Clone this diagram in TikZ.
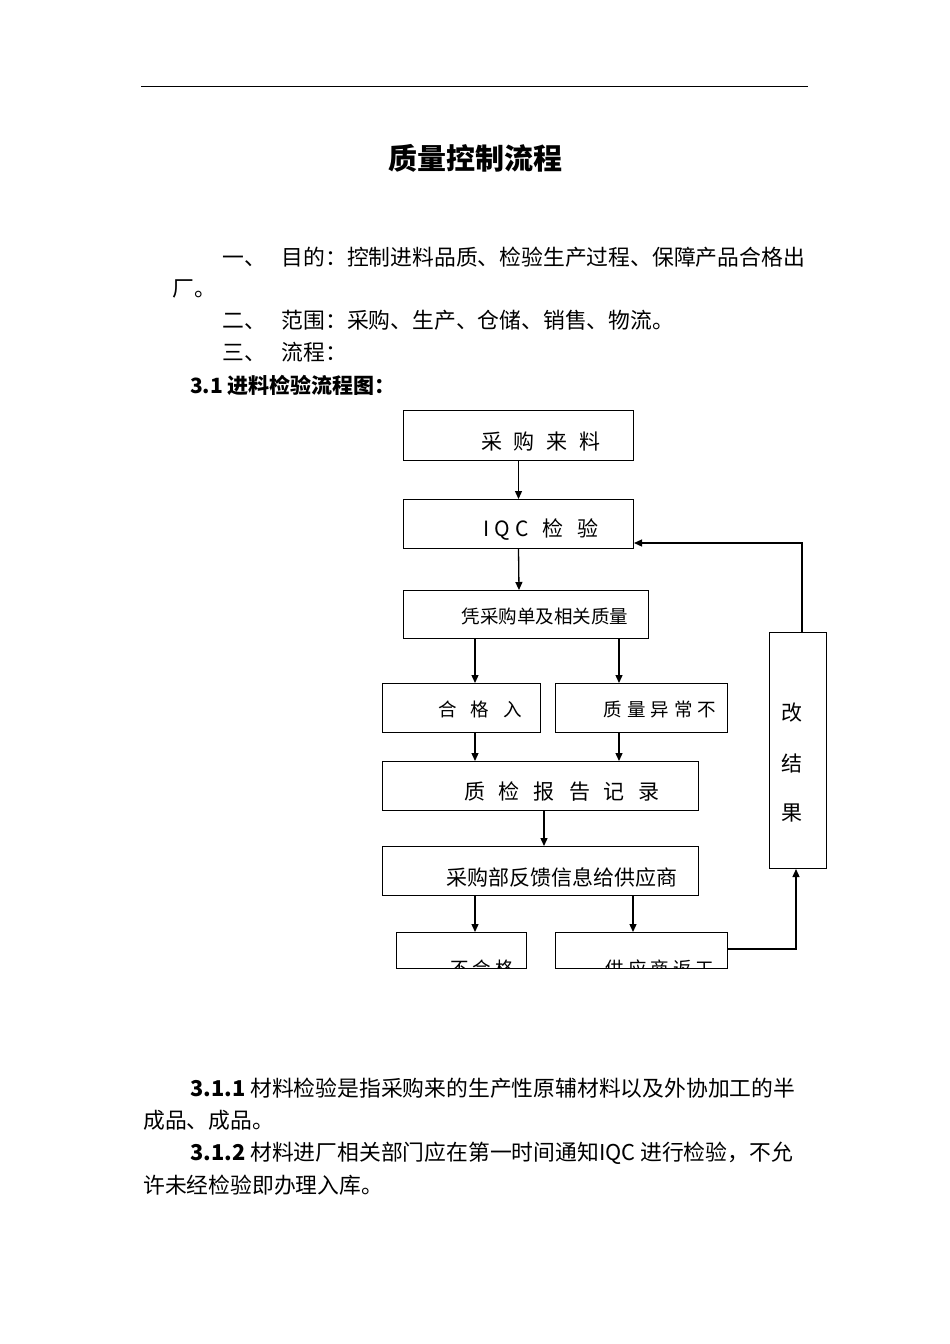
\documentclass[tikz,border=0pt]{standalone}
\usepackage{fontspec}
\setmainfont{Liberation Serif}
\newfontfamily\cjk{Noto Sans CJK SC}
\usetikzlibrary{arrows.meta}
\tikzset{bx/.style={draw,line width=1pt,anchor=north west,inner sep=0pt},
 ar/.style={-{Triangle[length=8pt,width=7pt]},line width=1.3pt},
 tx/.style={font=\fontsize{21.8}{24}\selectfont\cjk,inner sep=0pt,anchor=west},
 bt/.style={font=\fontsize{21}{24}\selectfont\cjk,inner sep=0pt},
 st/.style={font=\fontsize{18.5}{22}\selectfont\cjk,inner sep=0pt}}
\begin{document}
\begin{tikzpicture}[x=1pt,y=-1pt]
\useasboundingbox (0,0) rectangle (950,1344);
\fill[white] (0,0) rectangle (950,1344);
\draw[line width=0.8pt] (141,86) -- (808,86);
\node[font=\fontsize{29}{32}\selectfont\cjk\bfseries] (title) at (475,158) {质量控制流程};
\node[tx] (l1) at (222,257) {一、\hspace{16pt}目的：控制进料品质、检验生产过程、保障产品合格出};
\node[tx] (l2) at (172,289) {厂。};
\node[tx] (l3) at (222,320) {二、\hspace{16pt}范围：采购、生产、仓储、销售、物流。};
\node[tx] (l4) at (222,352) {三、\hspace{16pt}流程：};
\node[tx,font=\fontsize{21}{24}\selectfont\cjk\bfseries] (l5) at (190,385) {3.1 进料检验流程图：};
% boxes
\node[bx,minimum width=230pt,minimum height=50pt] (b1) at (403,410) {};
\node[bt] at (541,442) {采\hspace{12pt}购\hspace{12pt}来\hspace{12pt}料};
\node[bx,minimum width=230pt,minimum height=49pt] (b2) at (403,499) {};
\node[bt] at (541,530) {I\hspace{5pt}Q\hspace{5pt}C\hspace{14pt}检\hspace{14pt}验};
\node[bx,minimum width=245pt,minimum height=48pt] (b3) at (403,590) {};
\node[st] at (545,616) {凭采购单及相关质量};
\node[bx,minimum width=158pt,minimum height=49pt] (b4) at (382,683) {};
\node[st] at (480,709) {合\hspace{14pt}格\hspace{14pt}入};
\node[bx,minimum width=172pt,minimum height=49pt] (b5) at (555,683) {};
\node[st] at (660,709) {质\hspace{5pt}量\hspace{5pt}异\hspace{5pt}常\hspace{5pt}不};
\node[bx,minimum width=316pt,minimum height=49pt] (b6) at (382,761) {};
\node[bt] at (562,792) {质\hspace{14pt}检\hspace{14pt}报\hspace{14pt}告\hspace{14pt}记\hspace{14pt}录};
\node[bx,minimum width=316pt,minimum height=49pt] (b7) at (382,846) {};
\node[bt] at (562,877) {采购部反馈信息给供应商};
\node[bx,minimum width=130pt,minimum height=36pt] (b8) at (396,932) {};
\node[bx,minimum width=172pt,minimum height=36pt] (b9) at (555,932) {};
\begin{scope}
\clip (396,932) rectangle (727,967);
\node[st] at (482,968) {不\hspace{4pt}合\hspace{4pt}格};
\node[st] at (660,968) {供\hspace{4pt}应\hspace{4pt}商\hspace{4pt}返\hspace{4pt}工};
\end{scope}
\node[bx,minimum width=57pt,minimum height=236pt] (r) at (769,632) {};
\node[bt] at (792,713) {改};
\node[bt] at (792,763) {结};
\node[bt] at (792,813) {果};
% arrows
\draw[ar] (b1.south) -- (b2.north);
\draw[ar] (b2.south) -- (519,590);
\draw[ar] (475,638) -- (475,683);
\draw[ar] (619,638) -- (619,683);
\draw[ar] (475,732) -- (475,761);
\draw[ar] (619,732) -- (619,761);
\draw[ar] (544,810) -- (544,846);
\draw[ar] (475,895) -- (475,932);
\draw[ar] (633,895) -- (633,932);
\coordinate (c1) at (796,949);
\draw[ar] (b9.east |- c1) -- (c1) -- (r.south -| c1);
\coordinate (c2) at (802,543);
\draw[ar] (r.north -| c2) -- (c2) -- (b2.east |- c2);
% bottom text
\node[tx] (p1) at (190,1088) {\textbf{3.1.1} 材料检验是指采购来的生产性原辅材料以及外协加工的半};
\node[tx] (p2) at (143,1120) {成品、成品。};
\node[tx] (p3) at (190,1153) {\textbf{3.1.2} 材料进厂相关部门应在第一时间通知IQC 进行检验，不允};
\node[tx] (p4) at (143,1185) {许未经检验即办理入库。};
\end{tikzpicture}
\end{document}
